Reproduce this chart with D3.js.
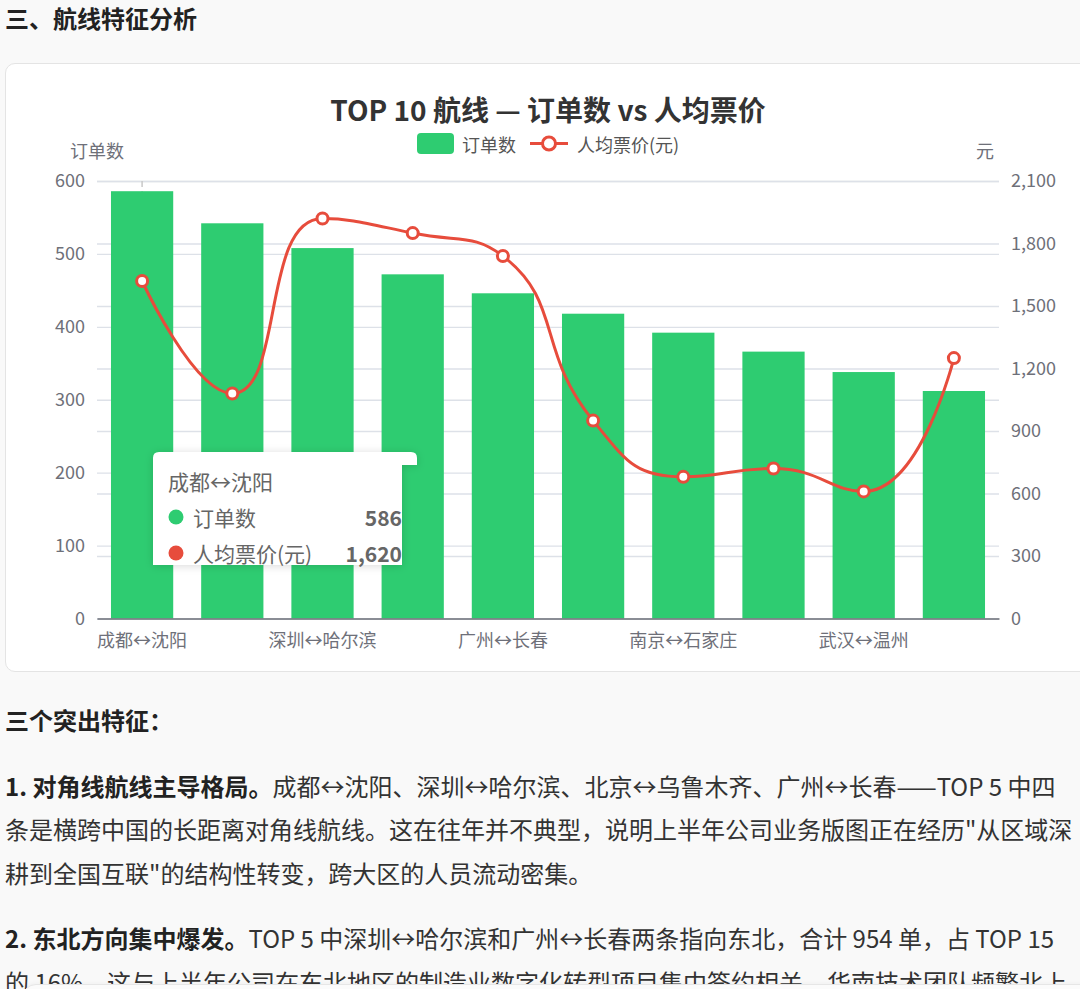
<!DOCTYPE html>
<html>
<head>
<meta charset="utf-8">
<script src="https://cdn.jsdelivr.net/npm/d3@7"></script>
<style>
html,body{margin:0;padding:0;}
body{width:1080px;height:989px;overflow:hidden;background:#f9f9f9;position:relative;
  font-family:"Noto Sans CJK SC","Noto Sans",sans-serif;color:#333;}
.h3{position:absolute;left:5px;top:0;line-height:36px;font-size:24px;font-weight:bold;color:#222;}
.card{position:absolute;left:5px;top:63px;width:1100px;height:607px;background:#fff;
  border:1px solid #e4e4e4;border-radius:10px;}
#chart{position:absolute;left:0;top:0;}
.txt{position:absolute;left:5px;top:698px;width:1100px;font-size:24px;line-height:43.5px;color:#333;}
.txt p{margin:0 0 22px 0;}
.txt span{white-space:nowrap;display:block;}
.txt b{color:#222;}
.overlay{position:absolute;left:22px;top:984px;width:1100px;height:40px;background:#fbfbfb;
  border:1px solid #e6e6e6;border-radius:14px;box-shadow:0 -1px 4px rgba(0,0,0,0.04);}
</style>
</head>
<body>
<div class="h3">三、航线特征分析</div>
<div class="card"></div>
<svg id="chart" width="1080" height="680"></svg>
<div class="txt">
  <p><b>三个突出特征：</b></p>
  <p><span><b>1. 对角线航线主导格局。</b>成都↔沈阳、深圳↔哈尔滨、北京↔乌鲁木齐、广州↔长春——TOP 5 中四</span><span>条是横跨中国的长距离对角线航线。这在往年并不典型，说明上半年公司业务版图正在经历"从区域深</span><span>耕到全国互联"的结构性转变，跨大区的人员流动密集。</span></p>
  <p><span><b>2. 东北方向集中爆发。</b>TOP 5 中深圳↔哈尔滨和广州↔长春两条指向东北，合计 954 单，占 TOP 15</span><span>的 16%。这与上半年公司在东北地区的制造业数字化转型项目集中签约相关，华南技术团队频繁北上</span></p>
</div>
<div class="overlay"></div>
<script>
// 航线数据
var routes=['成都↔沈阳','北京↔上海','深圳↔哈尔滨','北京↔乌鲁木齐','广州↔长春','上海↔成都','南京↔石家庄','杭州↔西安','武汉↔温州','重庆↔青岛'];
var orders=[586,542,508,472,446,418,392,366,338,312];
var prices=[1620,1080,1920,1850,1740,950,680,720,610,1250];
var leftTicks=[0,100,200,300,400,500,600];
var rightTicks=[0,300,600,900,1200,1500,1800,2100];

var green='#2ecc71', red='#e74c3c', axisColor='#6E7079', gridColor='#dde1e8';
var gridL=97, gridR=999, gridT=181, gridB=618.5;
var font='"Noto Sans CJK SC","Noto Sans",sans-serif';

var svg=d3.select('#chart').style('font-family',font);

var xScale=d3.scaleBand().domain(routes).range([gridL,gridR]).paddingInner(0).paddingOuter(0);
var yLeft=d3.scaleLinear().domain([0,600]).range([gridB,gridT]);
var yRight=d3.scaleLinear().domain([0,2100]).range([gridB,gridT]);
var barW=xScale.bandwidth()*0.69;
var cx=function(d){return xScale(d)+xScale.bandwidth()/2;};

// 标题
svg.append('text')
	.attr('x',548).attr('y',109)
	.attr('text-anchor','middle').attr('dominant-baseline','central')
	.attr('font-size','28px').attr('font-weight','bold').attr('fill','#333')
	.text('TOP 10 航线 — 订单数 vs 人均票价');

// 图例
var lg=svg.append('g');
lg.append('rect').attr('x',417).attr('y',133).attr('width',37).attr('height',21).attr('rx',4).attr('fill',green);
lg.append('text').attr('x',462).attr('y',143.5).attr('dominant-baseline','central')
	.attr('font-size','18px').attr('fill','#555').text('订单数');
lg.append('line').attr('x1',530).attr('x2',568).attr('y1',143.5).attr('y2',143.5)
	.attr('stroke',red).attr('stroke-width',3);
lg.append('circle').attr('cx',549).attr('cy',143.5).attr('r',6.5)
	.attr('fill','#fff').attr('stroke',red).attr('stroke-width',3);
lg.append('text').attr('x',577).attr('y',143.5).attr('dominant-baseline','central')
	.attr('font-size','18px').attr('fill','#555').text('人均票价(元)');

// 网格与左右轴
var gL=svg.append('g').attr('transform','translate('+gridL+',0)')
	.call(d3.axisLeft(yLeft).tickValues(leftTicks).tickSize(-(gridR-gridL)).tickPadding(12));
var gR=svg.append('g').attr('transform','translate('+gridR+',0)')
	.call(d3.axisRight(yRight).tickValues(rightTicks).tickFormat(d3.format(',')).tickSize(-(gridR-gridL)).tickPadding(12));
[gL,gR].forEach(function(g){
	g.select('.domain').remove();
	g.selectAll('line').attr('stroke',gridColor).attr('stroke-width',1.3);
	g.selectAll('text').attr('font-size','18px').attr('fill',axisColor).attr('font-family',font);
});

svg.append('text').attr('x',gridL).attr('y',150).attr('text-anchor','middle').attr('dominant-baseline','central')
	.attr('font-size','18px').attr('fill',axisColor).text('订单数');
svg.append('text').attr('x',985).attr('y',150).attr('text-anchor','middle').attr('dominant-baseline','central')
	.attr('font-size','18px').attr('fill',axisColor).text('元');

// 指示线
svg.append('line').attr('x1',cx(routes[0])).attr('x2',cx(routes[0]))
	.attr('y1',gridT).attr('y2',gridB)
	.attr('stroke','#c8c8c8').attr('stroke-width',1.5).attr('stroke-dasharray','6,4');

// 柱子
svg.selectAll('.bar').data(routes).enter().append('rect')
	.attr('class','bar')
	.attr('x',function(d){return cx(d)-barW/2;})
	.attr('y',function(d,i){return yLeft(orders[i]);})
	.attr('width',barW)
	.attr('height',function(d,i){return gridB-yLeft(orders[i]);})
	.attr('fill',green);

// x轴
var gx=svg.append('g').attr('transform','translate(0,'+gridB+')')
	.call(d3.axisBottom(xScale).tickValues(routes.filter(function(d,i){return i%2==0;})).tickSize(0).tickPadding(16));
gx.select('.domain').attr('stroke',axisColor).attr('stroke-width',1.5);
gx.selectAll('text').attr('font-size','18px').attr('fill',axisColor).attr('font-family',font);

// 平滑折线 (仿 echarts smooth 0.5)
function smoothPath(pts,smooth){
	var p=d3.path();
	var cp0x,cp0y,n=pts.length;
	for(var i=0;i<n;i++){
		var x=pts[i][0],y=pts[i][1];
		if(i==0){p.moveTo(x,y);cp0x=x;cp0y=y;continue;}
		var px=pts[i-1][0],py=pts[i-1][1];
		var cp1x,cp1y,ncx,ncy;
		if(i==n-1){cp1x=x;cp1y=y;}
		else{
			var nx=pts[i+1][0],ny=pts[i+1][1];
			var vx=nx-px,vy=ny-py;
			var lp=Math.hypot(x-px,y-py),ln=Math.hypot(nx-x,ny-y);
			var r=ln/(ln+lp);
			ncx=x+vx*smooth*r; ncy=y+vy*smooth*r;
			ncx=Math.max(Math.min(ncx,Math.max(nx,x)),Math.min(nx,x));
			ncy=Math.max(Math.min(ncy,Math.max(ny,y)),Math.min(ny,y));
			vx=ncx-x; vy=ncy-y;
			cp1x=x-vx*lp/ln; cp1y=y-vy*lp/ln;
			cp1x=Math.max(Math.min(cp1x,Math.max(px,x)),Math.min(px,x));
			cp1y=Math.max(Math.min(cp1y,Math.max(py,y)),Math.min(py,y));
			vx=x-cp1x; vy=y-cp1y;
			ncx=x+vx*ln/lp; ncy=y+vy*ln/lp;
		}
		p.bezierCurveTo(cp0x,cp0y,cp1x,cp1y,x,y);
		cp0x=ncx; cp0y=ncy;
	}
	return p.toString();
}
var pts=routes.map(function(d,i){return [cx(d),yRight(prices[i])];});
svg.append('path').attr('d',smoothPath(pts,0.5))
	.attr('fill','none').attr('stroke',red).attr('stroke-width',3);
svg.selectAll('.dot').data(pts).enter().append('circle')
	.attr('class','dot')
	.attr('cx',function(d){return d[0];}).attr('cy',function(d){return d[1];})
	.attr('r',5.5).attr('fill','#fff').attr('stroke',red).attr('stroke-width',3);

// 提示框
var defs=svg.append('defs');
var f=defs.append('filter').attr('id','sh').attr('x','-20%').attr('y','-20%').attr('width','140%').attr('height','140%');
f.append('feDropShadow').attr('dx',0).attr('dy',1).attr('stdDeviation',4).attr('flood-color','#000').attr('flood-opacity',0.15);
var tip=svg.append('g');
tip.append('path')
	.attr('d','M159,452 H411 Q417,452 417,458 V465 H402 V565 H153 V458 Q153,452 159,452 Z')
	.attr('fill','#fff').attr('filter','url(#sh)');
tip.append('text').attr('x',168).attr('y',481).attr('dominant-baseline','central')
	.attr('font-size','21px').attr('fill','#666').text(routes[0]);
var rows=[{name:'订单数',color:green,v:d3.format(',')(orders[0])},{name:'人均票价(元)',color:red,v:d3.format(',')(prices[0])}];
rows.forEach(function(r,i){
	var y=517+i*36;
	tip.append('circle').attr('cx',176).attr('cy',y).attr('r',7.5).attr('fill',r.color);
	tip.append('text').attr('x',193).attr('y',y).attr('dominant-baseline','central')
		.attr('font-size','21px').attr('fill','#666').text(r.name);
	tip.append('text').attr('x',402).attr('y',y).attr('text-anchor','end').attr('dominant-baseline','central')
		.attr('font-size','21px').attr('font-weight','bold').attr('fill','#666').text(r.v);
});
</script>
</body>
</html>
